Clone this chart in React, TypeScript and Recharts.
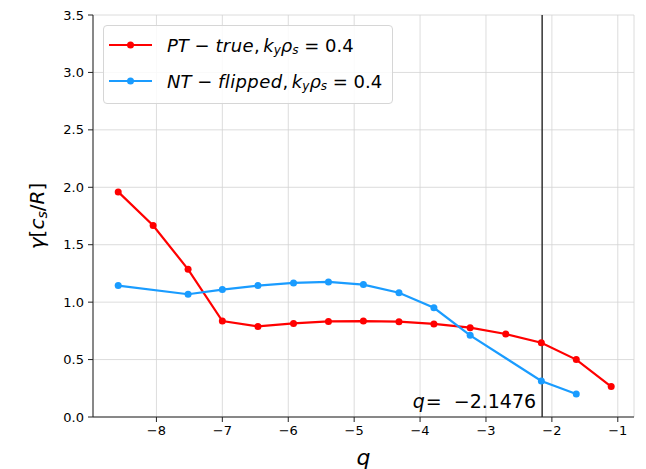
import { LineChart, Line, XAxis, YAxis, CartesianGrid, ReferenceLine, Legend } from 'recharts';

const qValues = [-8.58, -8.05, -7.52, -7.0, -6.46, -5.92, -5.39, -4.86, -4.32, -3.79, -3.24, -2.7, -2.16, -1.63, -1.1];
const ptTrue = [1.96, 1.667, 1.286, 0.835, 0.789, 0.815, 0.832, 0.835, 0.83, 0.81, 0.778, 0.723, 0.646, 0.5, 0.265];
const ntFlipped = [1.144, null, 1.069, 1.109, 1.144, 1.167, 1.176, 1.153, 1.082, 0.951, 0.711, null, 0.313, 0.2, null];
const xTicks = [-8, -7, -6, -5, -4, -3, -2, -1];
const yTicks = [0, 0.5, 1, 1.5, 2, 2.5, 3, 3.5];
const qCritical = -2.1476;

const RED = '#ff0000';
const BLUE = '#1a9cff';
const FONT = '"DejaVu Sans", sans-serif';

const data = qValues.map((q, i) => ({ q, pt: ptTrue[i], nt: ntFlipped[i] }));

const series = [
  { key: 'pt', color: RED, tag: 'PT', kind: 'true' },
  { key: 'nt', color: BLUE, tag: 'NT', kind: 'flipped' },
];

const minus = (v: number) => (v < 0 ? '\u2212' + Math.abs(v) : String(v));

const sub = { fontStyle: 'italic', fontSize: 12, position: 'relative' as const, top: 5 };

function LegendBox() {
  return (
    <div
      style={{
        border: '1px solid #d6d6d6',
        borderRadius: 4,
        background: 'rgba(255,255,255,0.85)',
        padding: '1px 10px 4px 5px',
        fontFamily: FONT,
        fontSize: 18,
        color: '#000',
      }}
    >
      {series.map((s) => (
        <div key={s.key} style={{ display: 'flex', alignItems: 'center', height: 36, whiteSpace: 'nowrap' }}>
          <svg width={43} height={10} style={{ marginRight: 15 }}>
            <line x1={0} y1={5} x2={43} y2={5} stroke={s.color} strokeWidth={2} />
            <circle cx={21.5} cy={5} r={3.5} fill={s.color} />
          </svg>
          <span style={{ fontStyle: 'italic' }}>{s.tag}</span>
          <span>&nbsp;&minus;&nbsp;</span>
          <span style={{ fontStyle: 'italic', letterSpacing: 0.4 }}>{s.kind}</span>
          <span>,&thinsp;</span>
          <span style={{ fontStyle: 'italic' }}>k</span>
          <span style={sub}>y</span>
          <span style={{ fontStyle: 'italic' }}>&rho;</span>
          <span style={sub}>s</span>
          <span>&nbsp;=&nbsp;0.4</span>
        </div>
      ))}
    </div>
  );
}

function YLabel(props: any) {
  const vb = props.viewBox || {};
  const cx = 37;
  const cy = vb.y + vb.height / 2;
  return (
    <text
      x={cx}
      y={cy}
      transform={`rotate(-90, ${cx}, ${cy})`}
      textAnchor="middle"
      dominantBaseline="central"
      fontFamily={FONT}
      fontSize={20}
      fill="#000"
    >
      <tspan fontStyle="italic">γ</tspan>
      <tspan>[</tspan>
      <tspan fontStyle="italic">c</tspan>
      <tspan fontStyle="italic" fontSize={14} dy={5}>s</tspan>
      <tspan dy={-5}>/</tspan>
      <tspan fontStyle="italic">R</tspan>
      <tspan>]</tspan>
    </text>
  );
}

function QLabel(props: any) {
  const vb = props.viewBox || {};
  return (
    <text x={vb.x - 6} y={vb.y + vb.height - 9} textAnchor="end" fontFamily={FONT} fontSize={19} fill="#000">
      <tspan fontStyle="italic">q</tspan>
      <tspan dx={1}>=</tspan>
      <tspan dx={12}>{'\u2212' + Math.abs(qCritical)}</tspan>
    </text>
  );
}

export default function App() {
  const tickStyle = { fill: '#000', fontSize: 13, fontFamily: FONT };
  return (
    <div style={{ position: 'absolute', left: 0, top: 0, width: 646, height: 469, background: '#fff' }}>
      <LineChart width={646} height={469} data={data} margin={{ top: 15, right: 12, bottom: 0, left: 0 }}>
        <CartesianGrid stroke="#d3d3d3" strokeWidth={0.8} />
        <XAxis
          dataKey="q"
          type="number"
          domain={[-8.9625, -0.754]}
          ticks={xTicks}
          allowDataOverflow
          height={52}
          tick={tickStyle}
          tickFormatter={minus}
          tickSize={5}
          tickMargin={4}
          stroke="#222"
          label={{ value: 'q', position: 'insideBottom', offset: 4, fontSize: 22, fontStyle: 'italic', fontFamily: FONT, fill: '#000' }}
        />
        <XAxis xAxisId="top" dataKey="q" type="number" orientation="top" domain={[-8.9625, -0.754]} height={0} tick={false} tickLine={false} stroke="#222" />
        <YAxis
          type="number"
          domain={[0, 3.5]}
          ticks={yTicks}
          width={93}
          tick={tickStyle}
          tickFormatter={(v: number) => v.toFixed(1)}
          tickSize={5}
          tickMargin={4}
          stroke="#222"
          label={{ content: <YLabel /> }}
        />
        <YAxis yAxisId="right" orientation="right" domain={[0, 3.5]} width={0} tick={false} tickLine={false} stroke="#222" />
        <ReferenceLine x={qCritical} stroke="#333" strokeWidth={1.5} label={<QLabel />} />
        <Line
          dataKey="pt"
          stroke={RED}
          strokeWidth={2.2}
          dot={{ r: 3.5, fill: RED, stroke: RED, strokeWidth: 0 }}
          isAnimationActive={false}
        />
        <Line
          dataKey="nt"
          stroke={BLUE}
          strokeWidth={2.2}
          connectNulls
          dot={{ r: 3.5, fill: BLUE, stroke: BLUE, strokeWidth: 0 }}
          isAnimationActive={false}
        />
        <Legend
          layout="vertical"
          align="center"
          verticalAlign="middle"
          wrapperStyle={{ left: 103, top: 25, width: 'auto', height: 'auto' }}
          content={<LegendBox />}
        />
      </LineChart>
    </div>
  );
}
